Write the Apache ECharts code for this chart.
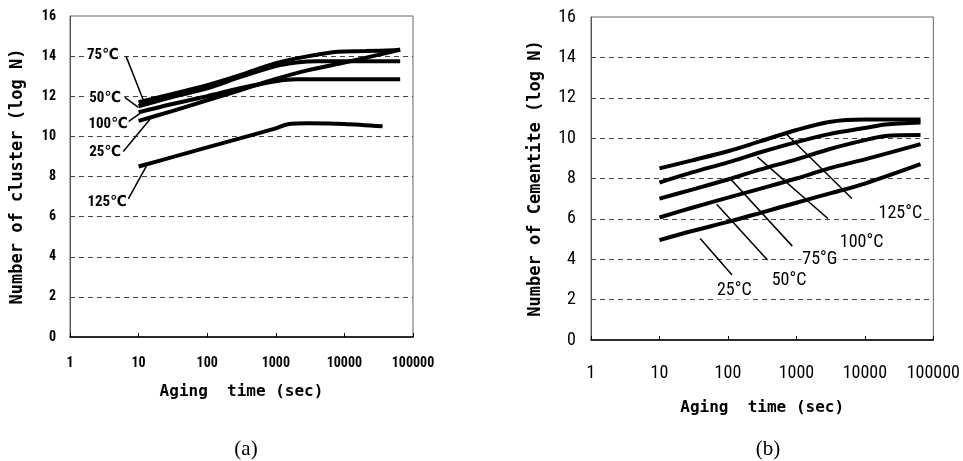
<!DOCTYPE html>
<html>
<head>
<meta charset="utf-8">
<script src="https://cdn.jsdelivr.net/npm/echarts@6/dist/echarts.min.js"></script>
<style>
html,body{margin:0;padding:0;background:#fff;}
#chart{width:963px;height:461px;}
</style>
</head>
<body>
<div id="chart"></div>
<script>
// ---- Data: (a) Number of cluster ----
const xTicks = [1, 10, 100, 1000, 10000, 100000];
const yTicks = [0, 2, 4, 6, 8, 10, 12, 14, 16];

const a75_t = [10, 30, 100, 300, 1000, 3000, 8000, 20000, 65000];
const a75_v = [11.7, 12.1, 12.55, 13.05, 13.65, 14.0, 14.22, 14.25, 14.3];
const a50_t = [10, 30, 100, 300, 1000, 2000, 4000, 10000, 65000];
const a50_v = [11.5, 11.95, 12.4, 12.95, 13.5, 13.68, 13.75, 13.75, 13.75];
const a100_t = [10, 30, 100, 300, 1000, 2000, 10000, 65000];
const a100_v = [11.2, 11.6, 12.0, 12.4, 12.75, 12.85, 12.85, 12.85];
const a25_t = [10, 30, 100, 300, 1000, 3000, 10000, 30000, 65000];
const a25_v = [10.77, 11.25, 11.8, 12.3, 12.86, 13.3, 13.68, 14.05, 14.33];
const a125_t = [10, 30, 100, 300, 1000, 1500, 3000, 10000, 36000];
const a125_v = [8.5, 8.95, 9.45, 9.9, 10.4, 10.6, 10.65, 10.62, 10.5];

// labels (a): text, anchor point [t, v], leader line [t1, v1, t2, v2]
const aLabels = ['75℃', '50℃', '100℃', '25℃', '125℃'];
const aLabelPos = [[3.0, 14.04], [3.24, 11.91], [3.58, 10.62], [3.24, 9.23], [3.46, 6.7]];
const aLeaders = [[6.55, 14.0, 11.7, 11.81], [6.3, 11.94, 9.9, 11.45], [7.08, 10.73, 10.5, 11.15], [5.98, 9.25, 15.5, 10.95], [7.08, 6.88, 13.1, 8.54]];

// ---- Data: (b) Number of Cementite ----
const b125_t = [10, 30, 100, 300, 1000, 3000, 10000, 65000];
const b125_v = [8.5, 8.9, 9.35, 9.85, 10.4, 10.8, 10.92, 10.92];
const b100_t = [10, 30, 100, 300, 1000, 3000, 10000, 20000, 65000];
const b100_v = [7.8, 8.3, 8.8, 9.3, 9.8, 10.2, 10.5, 10.68, 10.78];
const b75_t = [10, 30, 100, 300, 1000, 3000, 10000, 20000, 65000];
const b75_v = [7.0, 7.45, 7.95, 8.45, 8.95, 9.45, 9.9, 10.1, 10.15];
const b50_t = [10, 30, 100, 300, 1000, 3000, 10000, 65000];
const b50_v = [6.07, 6.55, 7.05, 7.5, 8.0, 8.5, 8.95, 9.7];
const b25_t = [10, 30, 100, 300, 1000, 3000, 10000, 65000];
const b25_v = [4.95, 5.4, 5.85, 6.3, 6.8, 7.25, 7.75, 8.71];

const bLabels = ['125°C', '100°C', '75°G', '50°C', '25°C'];
const bLabelPos = [[33000, 6.26], [8960, 4.83], [2200, 3.99], [780, 2.95], [124, 2.45]];
const bLeaders = [[700, 10.23, 6470, 7.01], [269, 9.07, 2880, 6.02], [111, 7.95, 871, 4.65], [68.5, 6.73, 378, 3.96], [39.3, 5.03, 115, 3.22]];

// ---- build ----
const zip = (t, v) => t.map((x, i) => [x, v[i]]);
const narrow = "'Roboto Condensed','DejaVu Sans Condensed',sans-serif";
const mono = "'DejaVu Sans Mono','Liberation Mono',monospace";

function curve(t, v, gi) {
  return {
    type: 'line', xAxisIndex: gi, yAxisIndex: gi, data: zip(t, v),
    smooth: 0.3, showSymbol: false, symbol: 'none',
    lineStyle: { color: '#000', width: 4 }, z: 3, silent: true
  };
}
function leaders(arr, gi) {
  return arr.map(l => ({
    type: 'line', xAxisIndex: gi, yAxisIndex: gi,
    data: [[l[0], l[1]], [l[2], l[3]]], showSymbol: false, symbol: 'none',
    lineStyle: { color: '#000', width: 1.5 }, z: 2, silent: true
  }));
}
function labels(texts, pos, gi, font) {
  return {
    type: 'scatter', xAxisIndex: gi, yAxisIndex: gi, symbolSize: 2,
    itemStyle: { color: '#fff', opacity: 1 }, silent: true, z: 5,
    data: pos.map((p, i) => ({ value: p, name: texts[i] })),
    label: {
      show: true, position: 'inside', formatter: p => p.name, opacity: 1,
      color: '#000', fontFamily: font.family, fontSize: font.size, fontWeight: font.weight,
      textBorderWidth: 0, textShadowBlur: 0,
      backgroundColor: '#fff', padding: [0, 1]
    },
    emphasis: { disabled: true },
    labelLayout: { hideOverlap: false }
  };
}

function xAxisCfg(gi, fs, fw, margin, nameGap) {
  return {
    gridIndex: gi, type: 'log', logBase: 10, min: 1, max: 100000,
    axisLine: { show: true, lineStyle: { color: '#000', width: 1.5 } },
    axisTick: { show: true, inside: true, length: 4, lineStyle: { color: '#000' } },
    minorTick: { show: false },
    axisLabel: {
      color: '#000', fontSize: fs, fontWeight: fw, fontFamily: narrow, margin: margin,
      formatter: v => String(Math.round(v))
    },
    splitLine: { show: false },
    name: 'Aging  time (sec)', nameLocation: 'middle', nameGap: nameGap,
    nameTextStyle: { color: '#000', fontFamily: mono, fontSize: 16, fontWeight: 'bold' }
  };
}
function yAxisCfg(gi, fs, fw, margin, name, nameGap) {
  return {
    gridIndex: gi, type: 'value', min: 0, max: 16, interval: 2,
    axisLine: { show: true, lineStyle: { color: '#555', width: 1 } },
    axisTick: { show: false },
    axisLabel: { color: '#000', fontSize: fs, fontWeight: fw, fontFamily: narrow, margin: margin },
    splitLine: { show: true, showMinLine: false, showMaxLine: false, lineStyle: { color: '#444', type: [5, 4], width: 1 } },
    name: name, nameLocation: 'middle', nameRotate: 90, nameGap: nameGap,
    nameTextStyle: { color: '#000', fontFamily: mono, fontSize: 17, fontWeight: 'bold' }
  };
}

const fa = { family: narrow, size: 15, weight: 'bold' };
const fb = { family: narrow, size: 18, weight: 'normal' };

const option = {
  animation: false,
  backgroundColor: '#fff',
  grid: [
    { left: 70, top: 16, width: 343, height: 321, show: true, borderColor: '#666', borderWidth: 1, backgroundColor: 'transparent' },
    { left: 591, top: 17, width: 344, height: 323, show: true, borderColor: '#666', borderWidth: 1, backgroundColor: 'transparent' }
  ],
  xAxis: [xAxisCfg(0, 14, 'bold', 19, 47), xAxisCfg(1, 18, 'normal', 24, 60)],
  yAxis: [yAxisCfg(0, 14, 'bold', 14, 'Number of cluster (log N)', 44),
          yAxisCfg(1, 18, 'normal', 15, 'Number of Cementite (log N)', 47)],
  title: [
    { text: '(a)', left: 241, top: 434, textAlign: 'center', textStyle: { fontFamily: "'Liberation Serif',serif", fontSize: 21, fontWeight: 'normal', color: '#000' } },
    { text: '(b)', left: 763, top: 434, textAlign: 'center', textStyle: { fontFamily: "'Liberation Serif',serif", fontSize: 21, fontWeight: 'normal', color: '#000' } }
  ],
  series: [
    curve(a75_t, a75_v, 0), curve(a50_t, a50_v, 0), curve(a100_t, a100_v, 0),
    curve(a25_t, a25_v, 0), curve(a125_t, a125_v, 0),
    ...leaders(aLeaders, 0),
    labels(aLabels, aLabelPos, 0, fa),
    curve(b125_t, b125_v, 1), curve(b100_t, b100_v, 1), curve(b75_t, b75_v, 1),
    curve(b50_t, b50_v, 1), curve(b25_t, b25_v, 1),
    ...leaders(bLeaders, 1),
    labels(bLabels, bLabelPos, 1, fb)
  ]
};

const chart = echarts.init(document.getElementById('chart'), null, { renderer: 'canvas' });
chart.setOption(option);
</script>
</body>
</html>
